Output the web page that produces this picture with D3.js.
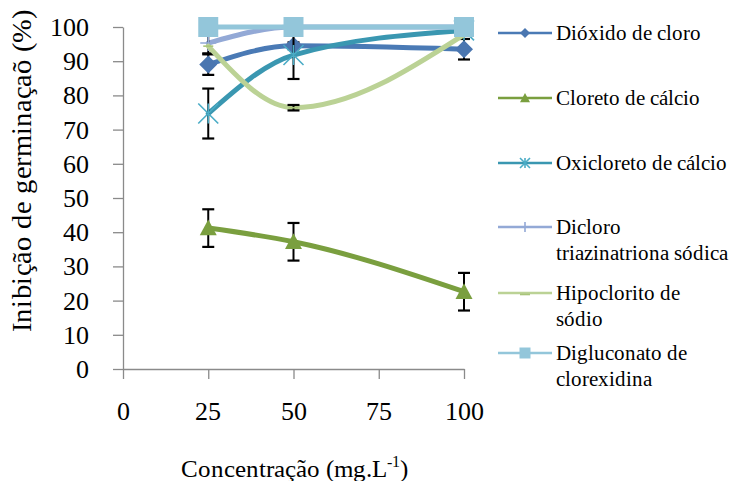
<!DOCTYPE html>
<html><head><meta charset="utf-8">
<script src="https://cdn.jsdelivr.net/npm/d3@7"></script>
<style>
@font-face { font-family: "ChartSerif"; src: local("Liberation Serif"), local("LiberationSerif"), local("LiberationSerif-Regular"), local("Times New Roman"), local("Tinos"); font-weight: normal; font-style: normal; }
body{margin:0;background:#fff}
</style>
</head><body><svg id="c" width="734" height="481"></svg>
<script>
// ---- data ----
const concentrations = [25, 50, 100];
const xTicks = [0, 25, 50, 75, 100];
const yTicks = [0, 10, 20, 30, 40, 50, 60, 70, 80, 90, 100];
const seriesNames = ["Dióxido de cloro", "Cloreto de cálcio", "Oxicloreto de cálcio",
  "Dicloro triazinatriona sódica", "Hipoclorito de sódio", "Digluconato de clorexidina"];
const legendLines = [["Dióxido de cloro"], ["Cloreto de cálcio"], ["Oxicloreto de cálcio"],
  ["Dicloro", "triazinatriona sódica"], ["Hipoclorito de", "sódio"], ["Digluconato de", "clorexidina"]];
const dioxidoDeCloro = [89, 94.5, 93.5];
const dioxidoDeCloroErr = [3, 1, 3];
const cloretoDeCalcio = [41.2, 37.2, 22.6];
const cloretoDeCalcioErr = [5.5, 5.5, 5.5];
const oxicloretoDeCalcio = [74.7, 91.8, 99];
const oxicloretoDeCalcioErr = [7.3, 7, 0];
const dicloroTriazinatriona = [95.3, 100, 100];
const dicloroTriazinatrionaErr = [3, 0, 0];
const hipocloritoDeSodio = [94.4, 76.4, 97.8];
const hipocloritoDeSodioErr = [0, 0.8, 0];
const digluconatoDeClorexidina = [100, 100, 100];
const digluconatoDeClorexidinaErr = [0, 0, 0];
const xTitle = "Concentração (mg.L";
const xTitleSup = "-1";
const yTitle = "Inibição de germinaçaõ (%)";

// ---- styles ----
const styles = [
  {color: "#4a7ab5", marker: "diamond", mcolor: "#4a76b0"},
  {color: "#7a9f3f", marker: "triangle", mcolor: "#7a9f3f"},
  {color: "#3a97b1", marker: "star", mcolor: "#4bacc6"},
  {color: "#93a9d6", marker: "plus", mcolor: "#93a9d6"},
  {color: "#bbd295", marker: "dash", mcolor: "#a9c47a"},
  {color: "#93c6da", marker: "square", mcolor: "#93c6da"}
];
const values = [dioxidoDeCloro, cloretoDeCalcio, oxicloretoDeCalcio, dicloroTriazinatriona, hipocloritoDeSodio, digluconatoDeClorexidina];
const errs = [dioxidoDeCloroErr, cloretoDeCalcioErr, oxicloretoDeCalcioErr, dicloroTriazinatrionaErr, hipocloritoDeSodioErr, digluconatoDeClorexidinaErr];

const svg = d3.select("#c");
const font = '"ChartSerif", "Liberation Serif", "Times New Roman", Tinos, "Nimbus Roman", FreeSerif, serif';
const BASE = 21; // render text at this size, then scale
function label(parent, tx, ty, size, str, anchor, rot) {
  const k = size / BASE;
  const g = parent.append("g").attr("transform", `translate(${tx},${ty})${rot ? ` rotate(${rot})` : ""} scale(${k})`);
  return g.append("text").attr("x", 0).attr("y", 0).attr("text-anchor", anchor || "start")
    .style("font-family", font).style("font-size", BASE + "px").attr("fill", "#000").text(str);
}

const x = d3.scaleLinear().domain([0, 100]).range([123, 464]);
const y = d3.scaleLinear().domain([0, 100]).range([369, 27]);
const axisColor = "#8a8a8a";

// axes
const gx = svg.append("g").attr("transform", `translate(0,${y(0)})`)
  .call(d3.axisBottom(x).tickValues(xTicks).tickSize(10).tickSizeOuter(0));
const gy = svg.append("g").attr("transform", `translate(${x(0)},0)`)
  .call(d3.axisLeft(y).tickValues(yTicks).tickSize(10).tickSizeOuter(0));
[gx, gy].forEach(g => {
  g.attr("font-family", null);
  g.select(".domain").attr("stroke", axisColor).attr("stroke-width", 1.3);
  g.selectAll(".tick line").attr("stroke", axisColor).attr("stroke-width", 1.3);
  g.selectAll(".tick text").remove();
});
xTicks.forEach(v => label(svg, x(v), 420, 26, String(v), "middle"));
yTicks.forEach(v => label(svg, 89, y(v) + 9, 26, String(v), "end"));

// titles
const xt = label(svg, 294, 477, 25, "", "middle");
xt.append("tspan").text(xTitle);
xt.append("tspan").text(xTitleSup).style("font-size", "13.5px").attr("dy", -8);
xt.append("tspan").text(")").attr("dy", 8);
const ytK = 27 / BASE;
label(svg, 31, 171, 27, yTitle, "middle", -90).attr("textLength", 322 / ytK).attr("lengthAdjust", "spacingAndGlyphs");

// custom marker shapes
function markerPath(type, s) {
  const p = d3.path();
  const h = s / 2;
  if (type === "diamond") { p.moveTo(0, -h); p.lineTo(h, 0); p.lineTo(0, h); p.lineTo(-h, 0); p.closePath(); }
  else if (type === "square") { p.rect(-h, -h, s, s); }
  else if (type === "triangle") { p.moveTo(0, -h); p.lineTo(h, h * 0.85); p.lineTo(-h, h * 0.85); p.closePath(); }
  else if (type === "star") { p.moveTo(-h, -h); p.lineTo(h, h); p.moveTo(h, -h); p.lineTo(-h, h); p.moveTo(0, -h); p.lineTo(0, h); }
  else if (type === "plus") { p.moveTo(-h, 0); p.lineTo(h, 0); p.moveTo(0, -h); p.lineTo(0, h); }
  else if (type === "dash") { p.moveTo(-h, 0); p.lineTo(h, 0); }
  return p.toString();
}
function drawMarker(g, type, color, cx, cy, s) {
  const filled = ["diamond", "square", "triangle"].includes(type);
  g.append("path").attr("transform", `translate(${cx},${cy})`).attr("d", markerPath(type, s))
    .attr("fill", filled ? color : "none").attr("stroke", color).attr("stroke-width", filled ? 0 : 1.6);
}

const line = d3.line().x((d, i) => x(concentrations[i])).y(d => y(d)).curve(d3.curveMonotoneX);
const sizes = {diamond: 18, triangle: 17, star: 20, plus: 16, dash: 10, square: 20};

values.forEach((vals, si) => {
  const st = styles[si];
  const g = svg.append("g");
  g.append("path").attr("d", line(vals)).attr("fill", "none").attr("stroke", st.color)
    .attr("stroke-width", 5).attr("stroke-linecap", "round");
  vals.forEach((v, i) => {
    const e = errs[si][i];
    if (e > 0) {
      const cx = x(concentrations[i]);
      g.append("line").attr("x1", cx).attr("x2", cx).attr("y1", y(v + e)).attr("y2", y(v - e)).attr("stroke", "#000").attr("stroke-width", 2);
      [v + e, v - e].forEach(t => g.append("line").attr("x1", cx - 6).attr("x2", cx + 6).attr("y1", y(t)).attr("y2", y(t)).attr("stroke", "#000").attr("stroke-width", 2.2));
    }
  });
  vals.forEach((v, i) => drawMarker(g, st.marker, st.mcolor, x(concentrations[i]), y(v), sizes[st.marker]));
});

// legend
const legendY = [33, 98, 163, 227, 293, 353];
const legSizes = {diamond: 10, triangle: 10, star: 10, plus: 10, dash: 10, square: 11};
legendLines.forEach((lines, i) => {
  const st = styles[i];
  const g = svg.append("g").attr("transform", `translate(0,${legendY[i]})`);
  g.append("line").attr("x1", 498).attr("x2", 552).attr("y1", 0).attr("y2", 0).attr("stroke", st.color).attr("stroke-width", 2.5);
  drawMarker(g, st.marker, st.mcolor, 525, st.marker === "dash" ? 1.5 : 0, legSizes[st.marker]);
  const t = g.append("text").attr("x", 556).attr("y", 7).style("font-family", font).style("font-size", "21px").attr("fill", "#000");
  lines.forEach((l, k) => t.append("tspan").attr("x", 556).attr("dy", k === 0 ? 0 : 26).text(l));
});
</script></body></html>
